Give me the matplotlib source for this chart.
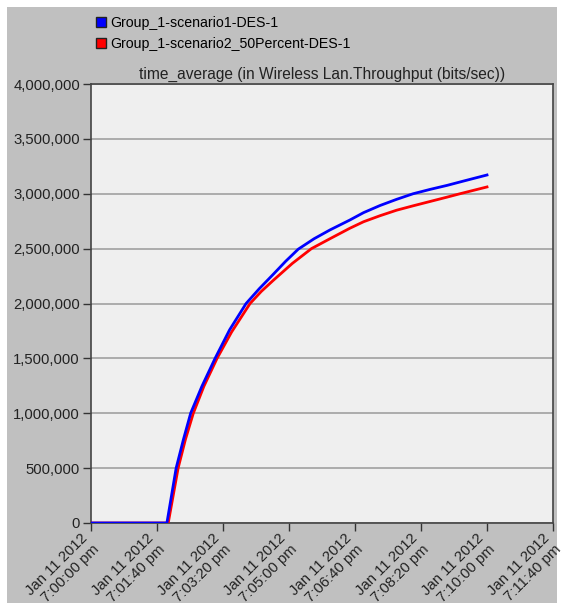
import matplotlib
matplotlib.use("Agg")
import matplotlib.pyplot as plt
from matplotlib.patches import Patch, Rectangle
from matplotlib.ticker import FuncFormatter
from matplotlib.transforms import ScaledTranslation

plt.rcParams['font.family'] = ['Liberation Sans', 'DejaVu Sans']

# seconds after 7:00:00 pm
t_blue = [0, 115, 129, 140, 151, 168, 188, 210, 235, 255, 276, 295, 314, 338, 362, 392, 413,
          438, 463, 488, 514, 540, 564, 600]
y_blue = [0, 0, 0.50e6, 0.76e6, 1.00e6, 1.245e6, 1.50e6, 1.76e6, 2.00e6, 2.135e6, 2.265e6,
          2.385e6, 2.495e6, 2.59e6, 2.67e6, 2.76e6, 2.828e6, 2.893e6, 2.949e6, 3.00e6, 3.04e6,
          3.077e6, 3.115e6, 3.171e6]

t_red = [0, 117, 132, 143, 155, 171, 191, 213, 241, 258, 276, 305, 334, 362, 392, 413, 438,
         463, 488, 514, 540, 559, 600]
y_red = [0, 0, 0.50e6, 0.76e6, 1.00e6, 1.245e6, 1.50e6, 1.74e6, 2.00e6, 2.11e6, 2.21e6,
         2.365e6, 2.50e6, 2.59e6, 2.685e6, 2.745e6, 2.80e6, 2.85e6, 2.89e6, 2.93e6, 2.97e6,
         3.00e6, 3.062e6]

tick_secs = [0, 100, 200, 300, 400, 500, 600, 700]
tick_labels = ["Jan 11 2012\n7:00:00 pm", "Jan 11 2012\n7:01:40 pm", "Jan 11 2012\n7:03:20 pm",
               "Jan 11 2012\n7:05:00 pm", "Jan 11 2012\n7:06:40 pm", "Jan 11 2012\n7:08:20 pm",
               "Jan 11 2012\n7:10:00 pm", "Jan 11 2012\n7:11:40 pm"]
y_ticks = [0, 500000, 1000000, 1500000, 2000000, 2500000, 3000000, 3500000, 4000000]

series_names = ["Group_1-scenario1-DES-1", "Group_1-scenario2_50Percent-DES-1"]

fig = plt.figure(figsize=(5.64, 6.03), dpi=100)
fig.patch.set_facecolor("white")
# gray panel behind everything
fig.patches.append(Rectangle((7 / 564, 0), 550 / 564, 1 - 7 / 603, transform=fig.transFigure,
                             facecolor="#c0c0c0", edgecolor="none", zorder=-10))

ax = fig.add_axes([91 / 564, 1 - 523 / 603, 462 / 564, 439 / 603])
ax.set_facecolor("#efefef")

ax.plot(t_red, y_red, color="#ff0000", lw=2, zorder=3)
ax.plot(t_blue, y_blue, color="#0000ff", lw=2, zorder=4)

ax.set_xlim(0, 700)
ax.set_ylim(0, 4000000)
ax.set_yticks(y_ticks)
ax.yaxis.set_major_formatter(FuncFormatter(lambda v, p: f"{int(v):,}"))
ax.set_xticks(tick_secs)
ax.set_xticklabels(tick_labels, rotation=45, ha="right", va="center", rotation_mode="anchor",
                   fontsize=10.7, color="#222222", linespacing=1.15)
shift = ScaledTranslation(-11 / 100, 0, fig.dpi_scale_trans)
for lab in ax.get_xticklabels():
    lab.set_transform(lab.get_transform() + shift)
ax.tick_params(axis="y", labelsize=10.7, labelcolor="#222222", length=6, width=1,
               color="#333333", pad=2)
ax.tick_params(axis="x", length=6, width=1, color="#333333", pad=7.5)
ax.grid(axis="y", color="#a0a0a0", lw=1.2)
ax.set_axisbelow(True)
for s in ax.spines.values():
    s.set_color("#444444")
    s.set_linewidth(1.2)

ax.set_title("time_average (in Wireless Lan.Throughput (bits/sec))", fontsize=11.2,
             color="#222222", pad=4)

handles = [Patch(facecolor="#0000ff", edgecolor="#222222"),
           Patch(facecolor="#ff0000", edgecolor="#222222")]
fig.legend(handles, series_names, loc="upper left", bbox_to_anchor=(90 / 564, 1 - 10 / 603),
           frameon=False, fontsize=10.2, handlelength=0.75, handleheight=0.75,
           handletextpad=0.25, labelspacing=0.5, borderaxespad=0)

fig.savefig("out.png", dpi=100, facecolor=fig.get_facecolor())
